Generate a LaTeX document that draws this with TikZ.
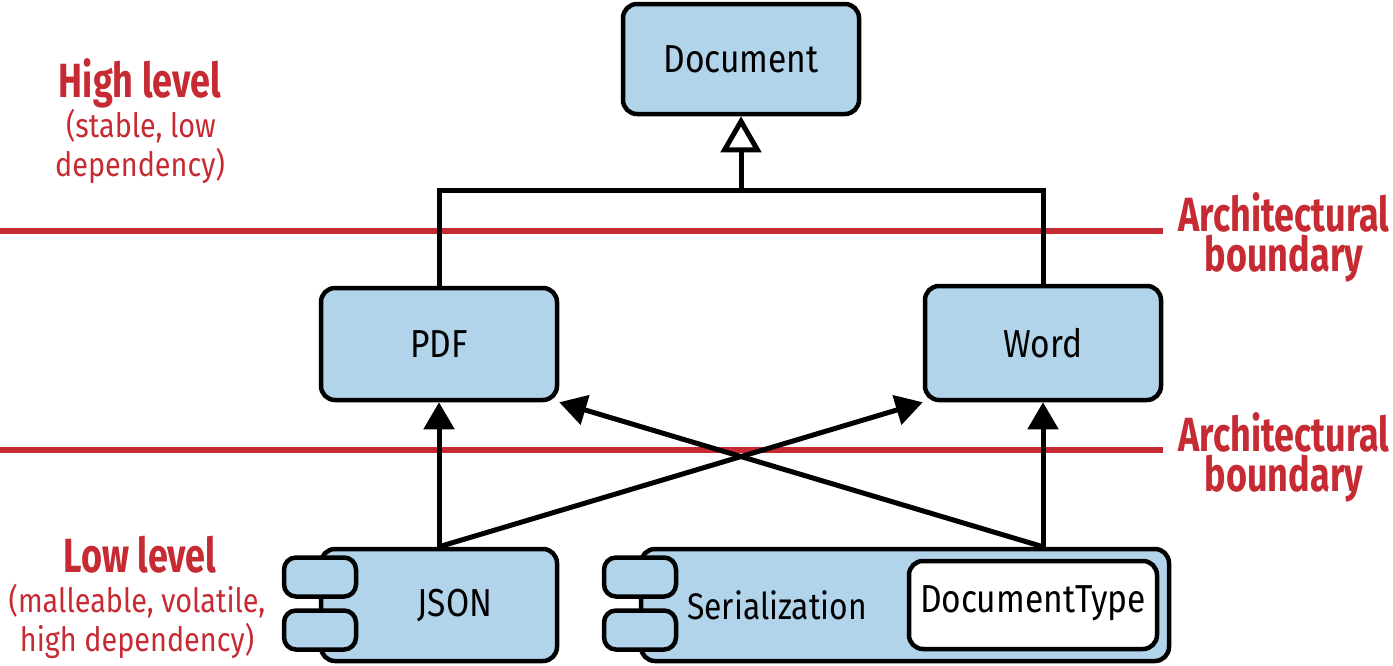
\documentclass[tikz,border=0pt]{standalone}
\usepackage{fontspec}
\setmainfont{Fira Sans}[FakeStretch=0.86]
\newfontfamily\redbf{Fira Sans}[FakeStretch=0.75]
\usetikzlibrary{arrows.meta}
\definecolor{boxblue}{HTML}{B1D4EA}
\definecolor{bred}{HTML}{C62A32}
\tikzset{
  box/.style={draw=black, fill=boxblue, line width=4.5pt, rounded corners=14pt, inner sep=0pt},
  tab/.style={draw=black, fill=boxblue, line width=4.5pt, rounded corners=12pt, inner sep=0pt, minimum width=72pt, minimum height=39pt},
  lbl/.style={font=\fontsize{39}{44}\selectfont, text=black, inner sep=0pt},
  conn/.style={line width=5pt, draw=black},
  arr/.style={conn, -{Triangle[length=27pt, width=30pt]}},
  boundary/.style={line width=6pt, draw=bred},
  redbig/.style={font=\fontsize{48}{52}\redbf\bfseries, text=bred, inner sep=0pt, anchor=base},
  redsmall/.style={font=\fontsize{33.5}{40}\selectfont, text=bred, inner sep=0pt, anchor=base},
}
\begin{document}
\begin{tikzpicture}[x=1pt, y=-1pt]
\useasboundingbox (0,0) rectangle (1393,665);
% boundaries
\coordinate (b1l) at (0,231); \coordinate (b1r) at (1163,231);
\coordinate (b2l) at (0,450); \coordinate (b2r) at (1163,450);
\draw[boundary] (b1l) -- (b1r);
\draw[boundary] (b2l) -- (b2r);
% side labels
\node[redbig] (hl) at (140,97) {High level};
\node[redsmall] (hl2) at (141,137) {(stable, low};
\node[redsmall] (hl3) at (140,176) {dependency)};
\node[redbig] (ll) at (140,572) {Low level};
\node[redsmall] (ll2) at (137,612) {(malleable, volatile,};
\node[redsmall] (ll3) at (137,651) {high dependency)};
\node[redbig] (ab1) at (1284,231) {Architectural};
\node[redbig] (ab1b) at (1284,271) {boundary};
\node[redbig] (ab2) at (1284,451) {Architectural};
\node[redbig] (ab2b) at (1284,491) {boundary};
% main boxes
\node[box, minimum width=236pt, minimum height=110pt] (doc) at (741,59) {};
\node[lbl] (doct) at (741,59) {Document};
\node[box, minimum width=236pt, minimum height=112pt] (pdf) at (439,344) {};
\node[lbl] (pdft) at (439,344) {PDF};
\node[box, minimum width=236pt, minimum height=114pt] (word) at (1043,343) {};
\node[lbl] (wordt) at (1043,343) {Word};
% inheritance
\coordinate (hub) at (741,190);
\draw[conn] (pdf.north) |- (hub) -| (word.north);
\draw[conn, -{Triangle[open, length=36pt, width=40pt]}] (hub) -- (doc.south);
% components
\node[box, minimum width=236pt, minimum height=112pt] (json) at (439,605) {};
\node[tab] (jt1) at (320,577) {};
\node[tab] (jt2) at (320,630) {};
\node[lbl] (jsont) at (455,605) {JSON};
\node[box, minimum width=528pt, minimum height=112pt] (ser) at (905,605) {};
\node[tab] (st1) at (640,577) {};
\node[tab] (st2) at (640,630) {};
\node[lbl, font=\fontsize{37}{44}\selectfont] (sert) at (777,605) {Serialization};
\node[box, fill=white, minimum width=248pt, minimum height=88pt] (dt) at (1033,605) {};
\node[lbl] (dtt) at (1033,603) {DocumentType};
% dependencies
\coordinate (serout) at (word.south |- ser.north);
\draw[arr] (json.north) -- (pdf.south);
\draw[arr] (json.north) -- (word.south west);
\draw[arr] (serout) -- (word.south);
\draw[arr] (serout) -- (pdf.south east);
\end{tikzpicture}
\end{document}
